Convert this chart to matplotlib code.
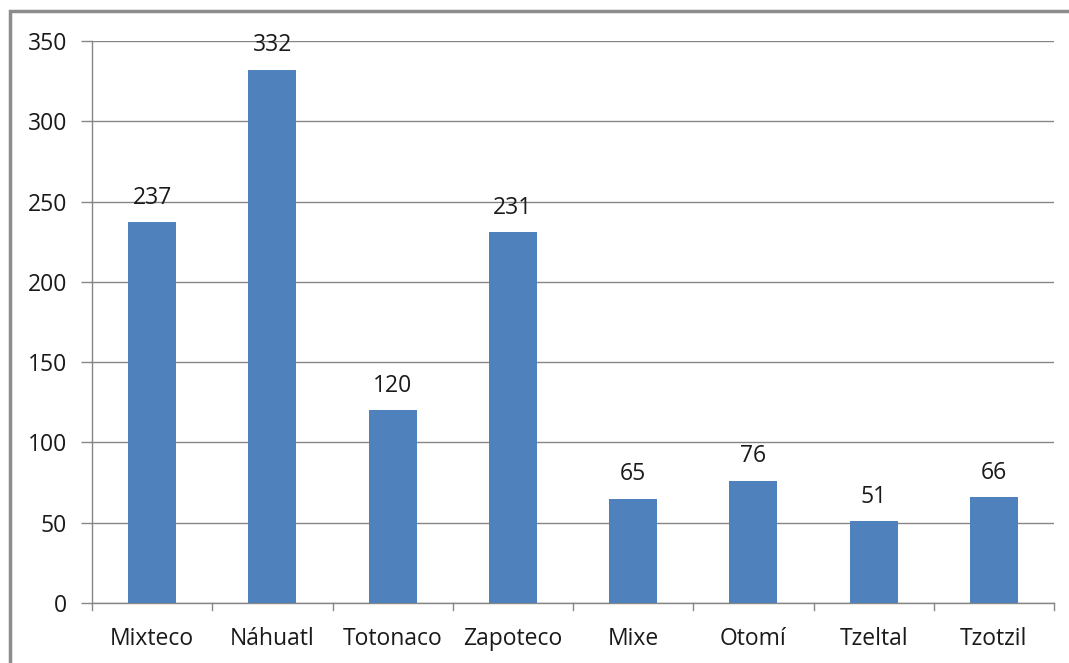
import matplotlib
matplotlib.use("Agg")
import matplotlib.pyplot as plt
from matplotlib.patches import Rectangle

categories = ["Mixteco", "Náhuatl", "Totonaco", "Zapoteco", "Mixe", "Otomí", "Tzeltal", "Tzotzil"]
values = [237, 332, 120, 231, 65, 76, 51, 66]
yticks = [0, 50, 100, 150, 200, 250, 300, 350]

plt.rcParams['font.family'] = ['Open Sans', 'DejaVu Sans']
W, H = 1069, 663
fig = plt.figure(figsize=(W/100, H/100), dpi=100)
ax = fig.add_axes([92/W, 1-603/H, (1054-92)/W, (603-41)/H])

gray = "#868686"
tc = "#1a1a1a"
fs = 16.5
x = list(range(len(categories)))
ax.bar(x, values, width=0.4, color="#4F81BD", zorder=3)
ax.set_xlim(-0.5, len(categories)-0.5)
ax.set_ylim(0, 350)
ax.set_yticks(yticks)
ax.set_yticklabels([str(t) for t in yticks], fontsize=fs, color=tc)
ax.set_xticks(x)
ax.set_xticklabels(categories, fontsize=fs, color=tc)
ax.tick_params(axis='x', length=0, pad=17)
ax.tick_params(axis='y', length=8, color=gray, pad=10, width=1)
for b in [i - 0.5 for i in range(len(categories)+1)]:
    ax.plot([b, b], [0, -0.0125], transform=ax.get_xaxis_transform(), color=gray, lw=1, clip_on=False)
ax.grid(axis='y', color=gray, lw=1, zorder=0)
for s in ['top', 'right']:
    ax.spines[s].set_visible(False)
for s in ['left', 'bottom']:
    ax.spines[s].set_color(gray)
    ax.spines[s].set_linewidth(1)
for xi, v in zip(x, values):
    ax.annotate(str(v), (xi, v), xytext=(0, 9), textcoords='offset points',
                ha='center', va='bottom', fontsize=fs, color=tc)

fig.patches.append(Rectangle((9.5/W, -0.1), 1.2, 1.1 - 11.5/H, transform=fig.transFigure,
                             fill=False, edgecolor="#8C8C8C", lw=2.5, zorder=10))
fig.savefig("out.png", dpi=100)
